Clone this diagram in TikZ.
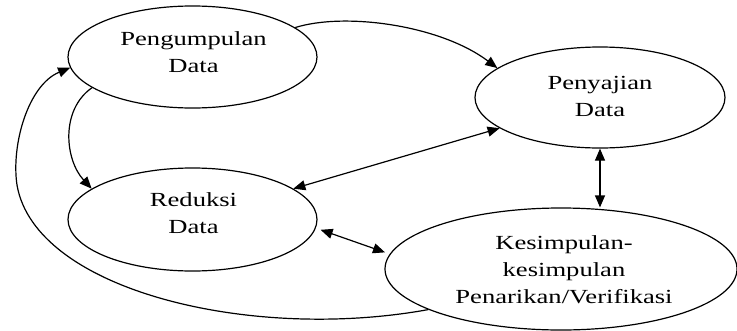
\documentclass[tikz,border=0pt]{standalone}
\usepackage{fontspec}
\setmainfont{Liberation Serif}
\newfontfamily\labfont{Liberation Serif}[FakeStretch=1.33]
\usetikzlibrary{arrows.meta,shapes.geometric}
\begin{document}
\begin{tikzpicture}[x=1pt,y=-1pt,
  ell/.style={draw, ellipse, line width=1.2pt, inner sep=0pt},
  txt/.style={font=\labfont\fontsize{20}{27}\selectfont, align=center, inner sep=0pt},
  con/.style={line width=1.2pt},
  tip/.style={-{Triangle[length=12pt,width=10pt]}},
  tips/.style={{Triangle[length=12pt,width=10pt]}-{Triangle[length=12pt,width=10pt]}}]
\useasboundingbox (0,0) rectangle (737,330);
% ellipses
\node[ell, minimum width=249pt, minimum height=102pt] (P) at (192.5,57) {};
\node[ell, minimum width=250pt, minimum height=101pt] (S) at (600,97.5) {};
\node[ell, minimum width=249pt, minimum height=103pt] (R) at (192.5,219.5) {};
\node[ell, minimum width=352pt, minimum height=122pt] (K) at (561,269) {};
% texts
\node[txt] (Pt) at (193.5,51.7) {Pengumpulan\\Data};
\node[txt] (St) at (600,96.7) {Penyajian\\Data};
\node[txt] (Rt) at (193.5,213.3) {Reduksi\\Data};
\node[txt] (Kt) at (564,269.8) {Kesimpulan-\\kesimpulan\\Penarikan/Verifikasi};
% connectors
\draw[con,tip] (P.16) .. controls (345,12) and (440,25) .. (S.164);
\draw[con,tip] (P.197) .. controls (60,110) and (65,160) .. (R.163);
\draw[con,tips] (S.197) -- (R.17);
\draw[con,tips] (S.south) -- (K.north -| S.south);
\draw[con,tips,shorten <=5pt,shorten >=5pt] (R.-4) -- (K.175);
\draw[con,tip] (K.197) .. controls (250,342) and (35,290) .. (17,185)
  .. controls (11,145) and (28,85) .. (P.185);
\end{tikzpicture}
\end{document}
